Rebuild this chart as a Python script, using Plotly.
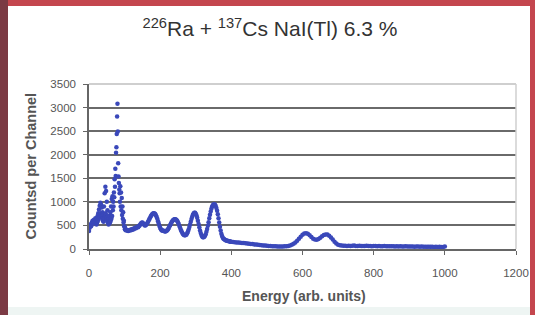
import plotly.graph_objects as go

# ---- data ----
# segment A: channels 0..18 (step 2)
start_a, step_a = 0, 2
counts_a = [380, 450, 520, 480, 560, 600, 540, 620, 580, 650]
# segment B: channels 20..104 (step 1), x-ray region with odd/even scatter
start_b, step_b = 20, 1
counts_b = [600, 520, 660, 560, 700, 600, 760, 640, 840, 680,
            920, 720, 980, 760, 940, 700, 880, 640, 780, 600,
            720, 580, 900, 640, 1180, 700, 1320, 760, 1230, 660,
            1000, 600, 820, 560, 700, 520, 640, 540, 700, 560,
            780, 600, 900, 640, 1060, 700, 1120, 820, 1000, 900,
            1200, 1100, 1480, 1320, 1700, 1550, 2040, 2160, 2440, 2810,
            3080, 2490, 1820, 1540, 1400, 1260, 1180, 1000, 1330, 900,
            1200, 820, 1080, 720, 900, 640, 780, 560, 600, 480,
            470, 420, 440, 400, 410]
# segment C: 106..400 (step 2)
start_c, step_c = 106, 2
counts_c = [400, 390, 380, 400, 390, 410, 400, 420, 410, 430,
            420, 440, 450, 440, 460, 470, 460, 480, 500, 520,
            540, 555, 560, 545, 525, 505, 500, 510, 530, 550,
            580, 610, 640, 670, 700, 720, 740, 755, 760, 755,
            740, 715, 680, 640, 590, 540, 490, 450, 420, 400,
            390, 385, 385, 375, 372, 375, 385, 400, 420, 445,
            475, 505, 535, 565, 590, 610, 622, 630, 632, 628,
            615, 595, 565, 530, 490, 450, 410, 375, 345, 320,
            302, 292, 290, 295, 310, 335, 370, 415, 465, 520,
            580, 635, 685, 725, 755, 770, 768, 750, 715, 665,
            600, 530, 460, 395, 340, 295, 265, 250, 248, 258,
            280, 315, 365, 425, 495, 570, 650, 725, 795, 855,
            900, 930, 945, 948, 938, 912, 870, 810, 735, 650,
            560, 470, 390, 325, 275, 240, 220, 205, 195, 188,
            182, 176, 172, 168, 164, 160, 156, 152]
# segment D: 405..1000 (step 5)
start_d, step_d = 405, 5
counts_d = [148, 144, 140, 136, 132, 128, 125, 121, 118, 112,
            108, 104, 98, 94, 90, 85, 80, 76, 72, 68,
            65, 62, 60, 58, 56, 55, 54, 54, 55, 57,
            60, 66, 75, 90, 110, 140, 175, 215, 260, 300,
            328, 335, 322, 292, 255, 220, 200, 198, 212, 240,
            272, 298, 310, 305, 282, 245, 200, 155, 118, 92,
            78, 72, 70, 68,
            66, 70, 64, 67, 72, 65, 63, 68, 66, 62,
            64, 67, 61, 63, 60, 62, 65, 59, 61, 58,
            60, 62, 57, 59, 56, 58, 60, 55, 57, 54,
            56, 53, 55, 57, 52, 54, 51, 53, 50, 52,
            54, 49, 51, 48, 50, 47, 49, 46, 48, 45,
            47, 44, 46, 43, 45, 52]

x_ticks = [0, 200, 400, 600, 800, 1000, 1200]
y_ticks = [0, 500, 1000, 1500, 2000, 2500, 3000, 3500]

energy, counts = [], []
for start, step, vals in [(start_a, step_a, counts_a), (start_b, step_b, counts_b),
                          (start_c, step_c, counts_c), (start_d, step_d, counts_d)]:
    energy += [start + step * i for i in range(len(vals))]
    counts += vals

W, H = 535, 315
ML, MR, MT, MB = 89, 19, 84, 66
PW, PH = W - ML - MR, H - MT - MB


def px(xp):
    return (xp - ML) / PW


def py(yp):
    return (H - MB - yp) / PH


fig = go.Figure()
fig.add_trace(go.Scatter(
    x=energy, y=counts, mode="markers",
    marker=dict(size=4.5, color="#3a48ba", line=dict(width=0)),
    showlegend=False, hoverinfo="x+y"))

font = "Liberation Sans, Arial, sans-serif"

fig.update_layout(
    width=W, height=H, autosize=False,
    margin=dict(l=ML, r=MR, t=MT, b=MB, pad=0, autoexpand=False),
    paper_bgcolor="white", plot_bgcolor="white",
    font=dict(family=font, color="#555555"),
    title=dict(text="<sup>226</sup>Ra + <sup>137</sup>Cs NaI(Tl) 6.3 %",
               x=270 / W, xref="container", xanchor="center",
               y=1 - 29 / H, yref="container", yanchor="middle",
               font=dict(family=font, size=21, color="#333333")),
    xaxis=dict(range=[0, 1200], tickvals=x_ticks, showgrid=False, zeroline=False,
               showline=True, linecolor="#666666", linewidth=1.5,
               ticks="outside", ticklen=4, tickcolor="#666666", tickwidth=1.2,
               ticklabelstandoff=8, automargin=False,
               tickfont=dict(family=font, size=11.5, color="#555555")),
    yaxis=dict(range=[0, 3500], tickvals=y_ticks, showgrid=True, gridcolor="#6a6a6a",
               gridwidth=1.6, zeroline=False,
               showline=True, linecolor="#666666", linewidth=1.5,
               ticks="outside", ticklen=4, tickcolor="#666666", tickwidth=1.2,
               ticklabelstandoff=5, automargin=False,
               tickfont=dict(family=font, size=11.5, color="#555555")),
    annotations=[
        dict(text="<b>Energy (arb. units)</b>", xref="paper", yref="paper",
             x=px(304), y=py(296), xanchor="center", yanchor="middle", showarrow=False,
             font=dict(family=font, size=14, color="#555555")),
        dict(text="<b>Countsd per Channel</b>", xref="paper", yref="paper",
             x=px(30.5), y=py(166), xanchor="center", yanchor="middle", showarrow=False,
             textangle=-90, font=dict(family=font, size=14.5, color="#555555")),
    ],
    shapes=[
        # light plot-area border (top and right)
        dict(type="line", xref="paper", yref="paper", x0=0, x1=1, y0=1, y1=1,
             line=dict(color="#cfcfcf", width=2), layer="above"),
        dict(type="line", xref="paper", yref="paper", x0=1, x1=1, y0=0, y1=1,
             line=dict(color="#cfcfcf", width=1.5), layer="above"),
        # picture frame
        dict(type="rect", xref="paper", yref="paper", x0=px(-2), x1=px(W + 2), y0=py(6), y1=py(-2),
             fillcolor="#c4464e", line=dict(width=0), layer="above"),
        dict(type="rect", xref="paper", yref="paper", x0=px(-2), x1=px(8), y0=py(H + 2), y1=py(-2),
             fillcolor="#7b3a44", line=dict(width=0), layer="above"),
        dict(type="rect", xref="paper", yref="paper", x0=px(530), x1=px(W + 2), y0=py(H + 2), y1=py(-2),
             fillcolor="#c4464e", line=dict(width=0), layer="above"),
        dict(type="rect", xref="paper", yref="paper", x0=px(8), x1=px(530), y0=py(H + 2), y1=py(307),
             fillcolor="#eef5f3", line=dict(width=0), layer="below"),
    ],
)

fig.write_html("out.html", config={"displayModeBar": False},
               post_script=("document.body.style.margin='0';document.body.style.padding='0';"
                            "document.body.style.overflow='hidden';"
                            "document.documentElement.style.overflow='hidden';"))
